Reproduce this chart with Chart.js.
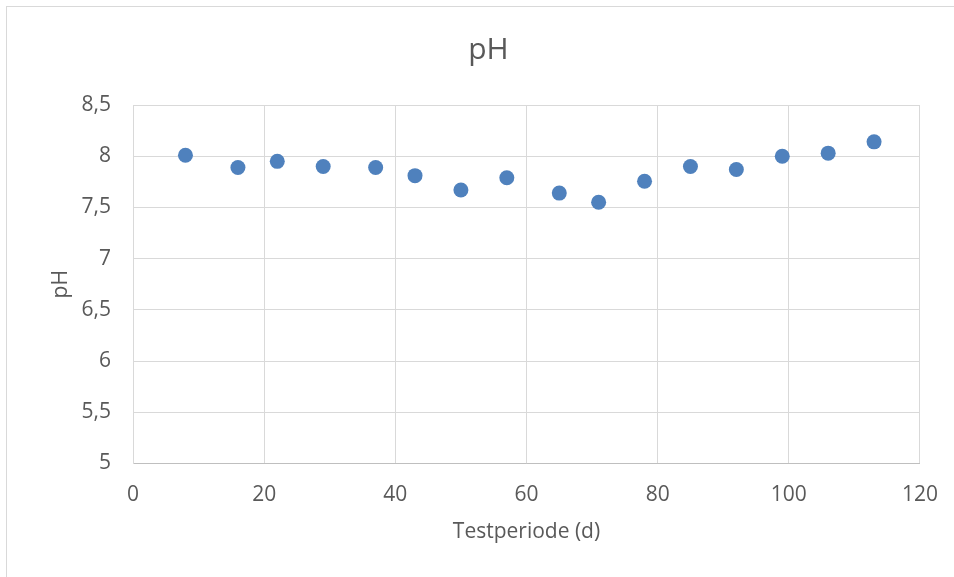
<!DOCTYPE html>
<html>
<head>
  <title>pH</title>
  <script src="https://cdn.jsdelivr.net/npm/chart.js"></script>
  <style>
    body {
      margin: 0;
      overflow: hidden;
      background: #ffffff;
    }

    .frame {
      position: absolute;
      left: 6px;
      top: 6px;
      width: 1000px;
      height: 1000px;
      border: 1px solid #d9d9d9;
    }

    .chart-container {
      position: absolute;
      left: 0;
      top: 0;
      width: 957px;
      height: 577px;
    }
  </style>
</head>
<body>
  <div class="frame"></div>
  <div class="chart-container">
    <canvas id="chart" width="957" height="577"></canvas>
  </div>

  <script>
    // Testperiode (d)
    var days = [8, 16, 22, 29, 37, 43, 50, 57, 65, 71, 78, 85, 92, 99, 106, 113];
    // pH
    var phValues = [8.01, 7.89, 7.95, 7.90, 7.89, 7.81, 7.67, 7.79, 7.64, 7.55, 7.755, 7.90, 7.87, 8.00, 8.03, 8.14];

    var points = days.map(function (d, i) {
      return { x: d, y: phValues[i] };
    });

    var textColor = '#595959';
    var font = "'Open Sans', sans-serif";

    var ctx = document.getElementById('chart').getContext('2d');
    var chart = new Chart(ctx, {
      type: 'scatter',
      data: {
        datasets: [{
          label: 'pH',
          data: points,
          backgroundColor: '#4f81bd',
          borderWidth: 0,
          pointRadius: 7.5,
          pointHoverRadius: 7.5
        }]
      },
      options: {
        responsive: false,
        animation: false,
        layout: {
          padding: { left: 52, right: 32, top: 0, bottom: 0 }
        },
        plugins: {
          legend: { display: false },
          tooltip: { enabled: false },
          title: {
            display: true,
            text: 'pH',
            color: textColor,
            font: { family: font, size: 30, weight: 'normal' },
            padding: { top: 32, bottom: 37 }
          }
        },
        scales: {
          x: {
            type: 'linear',
            min: 0,
            max: 120,
            ticks: {
              stepSize: 20,
              color: textColor,
              font: { family: font, size: 21 },
              padding: 19,
              maxRotation: 0
            },
            grid: { color: '#d9d9d9', drawTicks: false },
            border: { color: '#bfbfbf' },
            title: {
              display: true,
              text: 'Testperiode (d)',
              color: textColor,
              font: { family: font, size: 21 },
              padding: { top: 0, bottom: 32 }
            },
            afterFit: function (scale) {
              scale.height = 113.5;
            }
          },
          y: {
            min: 5,
            max: 8.5,
            ticks: {
              stepSize: 0.5,
              color: textColor,
              font: { family: font, size: 21 },
              padding: 22,
              callback: function (v) {
                return String(v).replace('.', ',');
              }
            },
            grid: { color: '#d9d9d9', drawTicks: false },
            border: { color: '#d9d9d9' },
            title: {
              display: true,
              text: 'pH',
              color: textColor,
              font: { family: font, size: 21 },
              padding: { top: -4, bottom: 0 }
            },
            afterFit: function (scale) {
              scale.width = 81;
            }
          }
        }
      }
    });
  </script>
</body>
</html>
